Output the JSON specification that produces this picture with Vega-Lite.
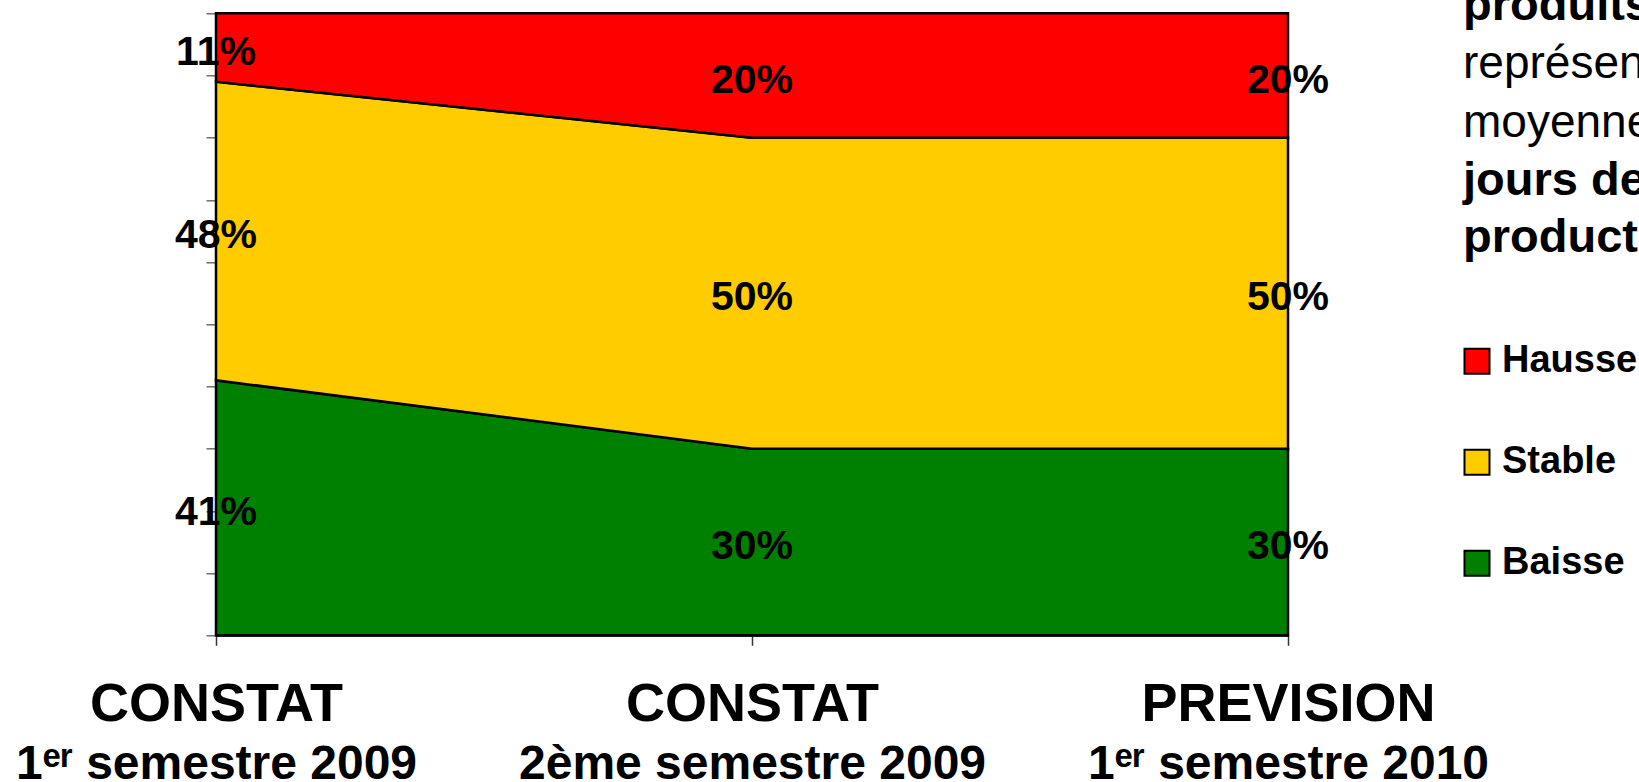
{
  "$schema": "https://vega.github.io/schema/vega-lite/v6.json",
  "width": 1072,
  "height": 622,
  "autosize": {"type": "none"},
  "padding": {"left": 216, "top": 13.3, "right": 351, "bottom": 146.7},
  "background": "white",
  "title": {
    "text": "produits",
    "subtitle": ["représentant", "moyenne"],
    "anchor": "start",
    "frame": "group",
    "orient": "top",
    "dx": 1247,
    "dy": 139,
    "offset": 0,
    "font": "Liberation Sans",
    "fontSize": 47,
    "fontWeight": "bold",
    "color": "black",
    "subtitleFont": "Liberation Sans",
    "subtitleFontSize": 46,
    "subtitleFontWeight": "normal",
    "subtitleColor": "black",
    "subtitleLineHeight": 59,
    "subtitlePadding": 12
  },
  "data": {
    "values": [
      {"periode": "CONSTAT|1ᵉʳ semestre 2009", "tendance": "Baisse", "part": 0.41},
      {"periode": "CONSTAT|1ᵉʳ semestre 2009", "tendance": "Stable", "part": 0.48},
      {"periode": "CONSTAT|1ᵉʳ semestre 2009", "tendance": "Hausse", "part": 0.11},
      {"periode": "CONSTAT|2ème semestre 2009", "tendance": "Baisse", "part": 0.30},
      {"periode": "CONSTAT|2ème semestre 2009", "tendance": "Stable", "part": 0.50},
      {"periode": "CONSTAT|2ème semestre 2009", "tendance": "Hausse", "part": 0.20},
      {"periode": "PREVISION|1ᵉʳ semestre 2010", "tendance": "Baisse", "part": 0.30},
      {"periode": "PREVISION|1ᵉʳ semestre 2010", "tendance": "Stable", "part": 0.50},
      {"periode": "PREVISION|1ᵉʳ semestre 2010", "tendance": "Hausse", "part": 0.20}
    ]
  },
  "transform": [
    {"calculate": "indexof(['Baisse','Stable','Hausse'], datum.tendance)", "as": "rang"},
    {"stack": "part", "groupby": ["periode"], "sort": [{"field": "rang", "order": "ascending"}], "as": ["bas", "haut"]},
    {"calculate": "(datum.bas + datum.haut) / 2", "as": "milieu"}
  ],
  "layer": [
    {
      "mark": {"type": "area", "stroke": "black", "strokeWidth": 2.5, "opacity": 1, "fillOpacity": 1},
      "encoding": {
        "x": {
          "field": "periode",
          "type": "ordinal",
          "sort": ["CONSTAT|1ᵉʳ semestre 2009", "CONSTAT|2ème semestre 2009", "PREVISION|1ᵉʳ semestre 2010"],
          "scale": {"type": "point", "padding": 0},
          "axis": {
            "orient": "bottom",
            "title": null,
            "labelExpr": "split(datum.label, '|')[0]",
            "labelAngle": 0,
            "labelFont": "Liberation Sans",
            "labelFontSize": 54,
            "labelFontWeight": "bold",
            "labelColor": "black",
            "labelPadding": 32,
            "labelLimit": 2000,
            "labelOverlap": false,
            "labelFlush": false,
            "labelBound": false,
            "tickSize": 10,
            "tickColor": "#333333",
            "tickWidth": 1.5,
            "domain": true,
            "domainColor": "black",
            "domainWidth": 2,
            "grid": false
          }
        },
        "y": {
          "field": "haut",
          "type": "quantitative",
          "scale": {"domain": [0, 1], "nice": false},
          "axis": {
            "title": null,
            "labels": false,
            "values": [0, 0.1, 0.2, 0.3, 0.4, 0.5, 0.6, 0.7, 0.8, 0.9, 1],
            "tickSize": 10,
            "tickColor": "#707070",
            "tickWidth": 1.5,
            "domainColor": "black",
            "domainWidth": 2,
            "grid": false
          }
        },
        "y2": {"field": "bas"},
        "color": {
          "field": "tendance",
          "type": "nominal",
          "scale": {"domain": ["Hausse", "Stable", "Baisse"], "range": ["#FF0000", "#FFCC00", "#008000"]},
          "legend": {
            "orient": "none",
            "legendX": 1247,
            "legendY": 145,
            "padding": 0,
            "title": ["jours de", "production"],
            "titleFont": "Liberation Sans",
            "titleFontSize": 47,
            "titleFontWeight": "bold",
            "titleColor": "black",
            "titleLineHeight": 57,
            "titlePadding": 80,
            "titleLimit": 0,
            "labelFont": "Liberation Sans",
            "labelFontSize": 38,
            "labelFontWeight": "bold",
            "labelColor": "black",
            "labelLimit": 0,
            "labelOffset": 6,
            "symbolOffset": -5,
            "symbolType": "square",
            "symbolSize": 625,
            "symbolStrokeColor": "black",
            "symbolStrokeWidth": 2,
            "symbolOpacity": 1,
            "rowPadding": 63
          }
        }
      }
    },
    {
      "mark": {"type": "text", "font": "Liberation Sans", "fontSize": 41, "fontWeight": "bold", "color": "black", "baseline": "middle", "align": "center", "dy": 5},
      "encoding": {
        "x": {
          "field": "periode",
          "type": "ordinal",
          "sort": ["CONSTAT|1ᵉʳ semestre 2009", "CONSTAT|2ème semestre 2009", "PREVISION|1ᵉʳ semestre 2010"],
          "axis": {
            "orient": "bottom",
            "title": null,
            "labelExpr": "split(datum.label, '|')[1]",
            "labelAngle": 0,
            "labelFont": "Liberation Sans",
            "labelFontSize": 48,
            "labelFontWeight": "bold",
            "labelColor": "black",
            "labelPadding": 95,
            "labelLimit": 2000,
            "labelOverlap": false,
            "labelFlush": false,
            "labelBound": false,
            "ticks": true,
            "tickSize": 10,
            "tickOpacity": 0,
            "domain": false,
            "grid": false
          }
        },
        "y": {"field": "milieu", "type": "quantitative"},
        "text": {"field": "part", "type": "quantitative", "format": ".0%"}
      }
    }
  ],
  "resolve": {"axis": {"x": "independent"}},
  "config": {
    "view": {"stroke": "black", "strokeWidth": 2}
  }
}
